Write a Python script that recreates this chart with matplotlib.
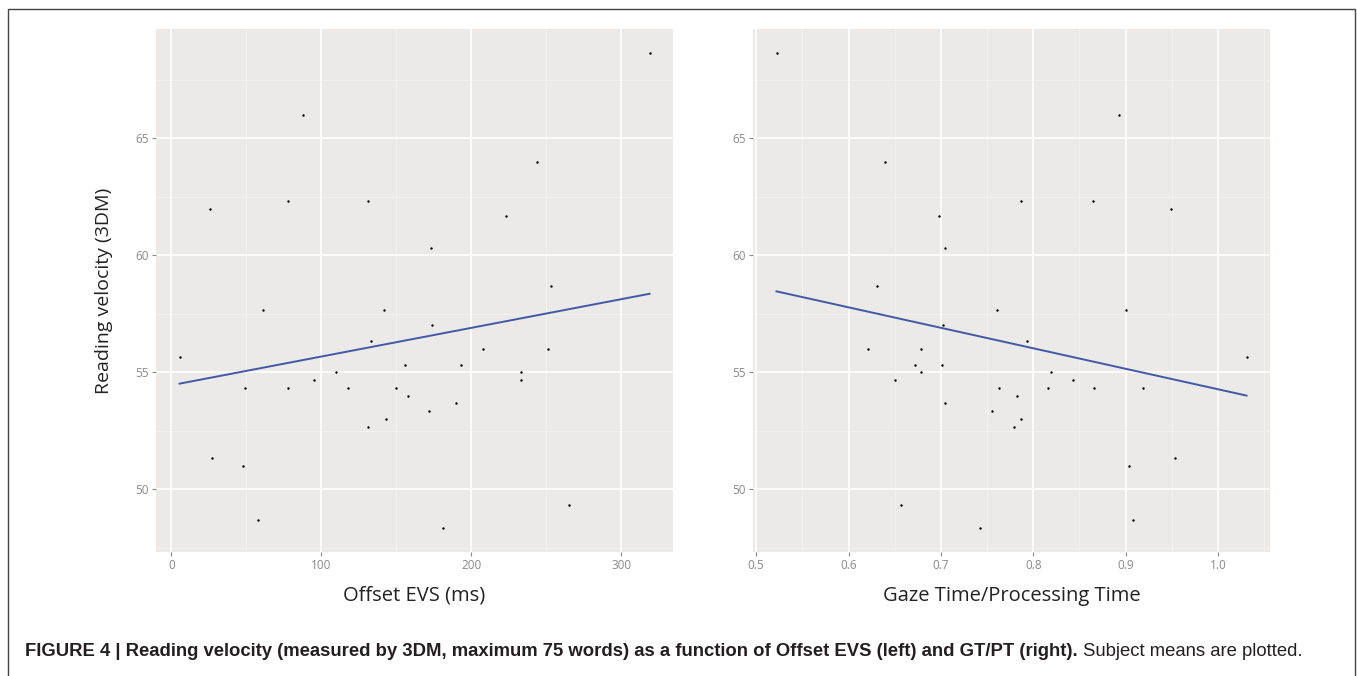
import numpy as np
import matplotlib
matplotlib.use("Agg")
import matplotlib.pyplot as plt
from matplotlib.patches import Rectangle

# Subject means
offset_evs = [88, 26, 78, 131, 319, 244, 223, 173, 61, 142, 5.5, 133.5, 156, 49, 78, 95.5,
              110, 118, 150, 158, 143, 131.5, 27, 48, 58, 253, 174, 208, 251, 193, 233, 233,
              172, 190, 265, 181.5]
velocity_left = [66.0, 62.0, 62.33, 62.33, 68.66, 64.0, 61.67, 60.33, 57.67, 57.67, 55.67, 56.33,
                 55.33, 54.33, 54.33, 54.67, 55.0, 54.33, 54.33, 54.0, 53.0, 52.67, 51.33, 51.0,
                 48.67, 58.67, 57.0, 56.0, 56.0, 55.33, 55.0, 54.67, 53.33, 53.67, 49.33, 48.33]

gt_pt = [0.522, 0.640, 0.698, 0.705, 0.787, 0.893, 0.865, 0.949, 0.631, 0.761, 0.702, 0.621,
         0.679, 0.672, 0.701, 0.678, 0.650, 0.763, 0.782, 0.705, 0.755, 0.787, 0.779, 0.657,
         0.742, 0.900, 0.793, 1.031, 0.819, 0.843, 0.816, 0.866, 0.919, 0.904, 0.954, 0.908]
velocity_right = [68.66, 64.0, 61.67, 60.33, 62.33, 66.0, 62.33, 62.0, 58.67, 57.67, 57.0, 56.0,
                  56.0, 55.33, 55.33, 55.0, 54.67, 54.33, 54.0, 53.67, 53.33, 53.0, 52.67, 49.33,
                  48.33, 57.67, 56.33, 55.67, 55.0, 54.67, 54.33, 54.33, 54.33, 51.0, 51.33, 48.67]

left_xticks = [0, 100, 200, 300]
left_xminor = [50, 150, 250]
right_xticks = [0.5, 0.6, 0.7, 0.8, 0.9, 1.0]
right_xminor = [0.55, 0.65, 0.75, 0.85, 0.95, 1.05]
yticks = [50, 55, 60, 65]
yminor = [47.5, 52.5, 57.5, 62.5, 67.5]

panel_bg = "#EBEAE8"
line_col = "#4259A6"
tick_col = "#8A8A8A"

plt.rcParams["font.family"] = ["Open Sans", "DejaVu Sans"]

fig = plt.figure(figsize=(13.57, 6.76), dpi=100)
ax1 = fig.add_axes([0.1150, 0.1834, 0.3810, 0.7737])
ax2 = fig.add_axes([0.5549, 0.1834, 0.3810, 0.7737])


def expand(vals):
    lo, hi = min(vals), max(vals)
    pad = (hi - lo) * 0.05
    return lo - pad, hi + pad


def style_panel(ax, x, y, xticks, xminor, xlabels):
    ax.set_facecolor(panel_bg)
    for s in ax.spines.values():
        s.set_visible(False)
    for v in xminor:
        ax.axvline(v, color="#F4F3F2", lw=0.6, zorder=0)
    for v in yminor:
        ax.axhline(v, color="#F4F3F2", lw=0.6, zorder=0)
    for v in xticks:
        ax.axvline(v, color="white", lw=1.2, zorder=0)
    for v in yticks:
        ax.axhline(v, color="white", lw=1.2, zorder=0)
    ax.set_xticks(xticks)
    ax.set_xticklabels(xlabels)
    ax.set_yticks(yticks)
    ax.tick_params(colors=tick_col, labelsize=8.5, length=3, width=0.8, pad=2)
    ax.set_xlim(*expand(x))
    ax.set_ylim(*expand(y))

    ax.scatter(x, y, s=3, color="black", zorder=3, linewidths=0)
    # linear fit, drawn over the data range like geom_smooth(method = "lm")
    coef = np.polyfit(x, y, 1)
    xs = np.linspace(min(x), max(x), 100)
    ax.plot(xs, np.polyval(coef, xs), color=line_col, lw=1.4, zorder=2)


style_panel(ax1, offset_evs, velocity_left, left_xticks, left_xminor,
            [str(v) for v in left_xticks])
style_panel(ax2, gt_pt, velocity_right, right_xticks, right_xminor,
            ["%.1f" % v for v in right_xticks])

ax1.set_xlabel("Offset EVS (ms)", fontsize=14.5, color="#222222", labelpad=10)
ax2.set_xlabel("Gaze Time/Processing Time", fontsize=14.5, color="#222222", labelpad=10)
ax1.set_ylabel("Reading velocity (3DM)", fontsize=14, color="#222222", labelpad=16)

# caption
cap = fig.text(25 / 1357, 1 - 651 / 676,
               "FIGURE 4 | Reading velocity (measured by 3DM, maximum 75 words) as a function "
               "of Offset EVS (left) and GT/PT (right).",
               fontsize=13.3, fontweight="bold", family=["Liberation Sans", "DejaVu Sans"],
               color="#231F20", ha="left", va="center")
ax1.annotate(" Subject means are plotted.", xy=(1, 0), xycoords=cap, va="bottom", ha="left",
             fontsize=13.3, family=["Liberation Sans", "DejaVu Sans"], color="#231F20",
             annotation_clip=False)

# frame around the figure
fig.add_artist(Rectangle((8 / 1357, -0.02), (1355 - 8) / 1357, 1 - 9 / 676 + 0.02,
                         transform=fig.transFigure, fill=False, edgecolor="#444444", lw=1.0))

fig.savefig("out.png", dpi=100)
